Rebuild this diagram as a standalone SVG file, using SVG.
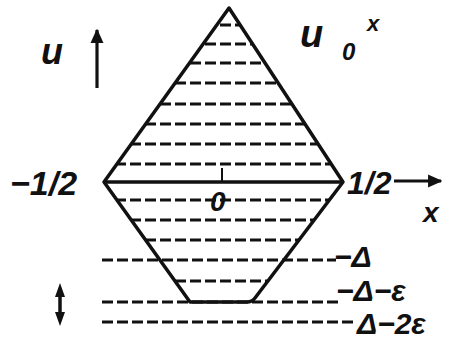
<svg xmlns="http://www.w3.org/2000/svg" width="449" height="341" viewBox="0 0 449 341">
<style>
.t{font-family:"Liberation Sans",Arial,sans-serif;font-style:italic;font-weight:bold;fill:#111;}
.d{stroke:#111;stroke-width:2.8;stroke-dasharray:11 4;fill:none;}
.s{stroke:#111;stroke-width:3.5;fill:none;stroke-linejoin:round;}
</style>
<defs>
<clipPath id="dia"><path d="M229,8 L343,182 L252,302 L190,302 L104,182 Z"/></clipPath>
<marker id="ah" viewBox="0 0 10 10" refX="9" refY="5" markerWidth="4.5" markerHeight="4.5" orient="auto" markerUnits="strokeWidth"><path d="M0,0.5 L10,5 L0,9.5 Z" fill="#111"/></marker>
</defs>
<rect width="449" height="341" fill="#fff"/>
<g id="hatch" clip-path="url(#dia)">
<path class="d" d="M100,25H350M100,44H350M100,63H350M100,83H350M100,104H350M100,124H350M100,144H350M100,164H350M100,200H350M100,220H350M100,240H350M100,281H350"/>
</g>
<g id="levels">
<path class="d" d="M102,260H336M102,302H340M102,322H357"/>
</g>
<g id="shape">
<path class="s" d="M229,8 L343,182 L255,298 Q252,302 247,302 L190,302 L104,182 Z"/>
<path class="s" d="M104,182H343"/>
<path stroke="#111" stroke-width="2" d="M222,168V181"/>
</g>
<g id="axes">
<path stroke="#111" stroke-width="3.2" d="M97,88V30" marker-end="url(#ah)"/>
<path stroke="#111" stroke-width="3.2" d="M394,181H441" marker-end="url(#ah)"/>
<path stroke="#111" stroke-width="3.5" d="M60,293V316"/>
<path fill="#111" d="M60,283 L65,297 L55,297 Z M60,326 L65,312 L55,312 Z"/>
</g>
<g id="labels">
<text class="t" x="41" y="64" font-size="36">u</text>
<text class="t" x="300" y="47" font-size="38">u</text>
<text class="t" x="342" y="60" font-size="24">0</text>
<text class="t" x="367" y="31" font-size="22">x</text>
<text class="t" x="10" y="195" font-size="34">−1/2</text>
<text class="t" x="347" y="194" font-size="32">1/2</text>
<text class="t" x="423" y="222" font-size="28">x</text>
<text class="t" x="210" y="211" font-size="28">0</text>
<text class="t" x="334" y="267" font-size="30">−Δ</text>
<text class="t" x="336" y="301" font-size="30">−Δ−ε</text>
<text class="t" x="357" y="334" font-size="30">Δ−2ε</text>
</g>
</svg>
